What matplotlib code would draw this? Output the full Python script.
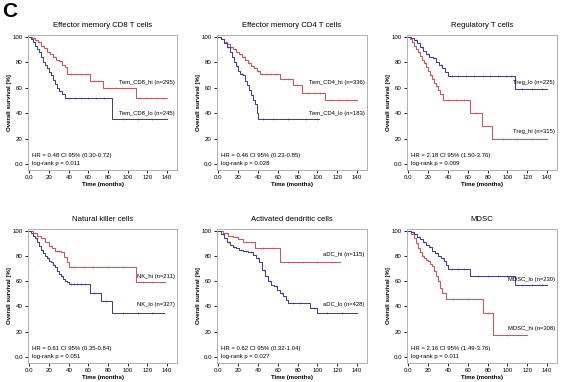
import matplotlib
matplotlib.use("Agg")
import matplotlib.pyplot as plt

plt.rcParams['font.family'] = ['Liberation Sans', 'DejaVu Sans']

RED = '#e04a4e'
BLUE = '#36369e'

# ---------------- data ----------------
titles = ["Effector memory CD8 T cells", "Effector memory CD4 T cells", "Regulatory T cells",
          "Natural killer cells", "Activated dendritic cells", "MDSC"]

# Panel 1: CD8
cd8_hi_t = [0, 3, 6, 9, 12, 15, 18, 21, 24, 27, 30, 33, 36, 38, 62, 75, 108]
cd8_hi_s = [100, 99, 97, 96, 93, 91, 88, 86, 84, 82, 81, 78, 76, 71, 65.5, 59.5, 52]
cd8_hi_end = 140
cd8_hi_c = [5, 10, 14, 20, 26, 31, 42, 47, 52, 57, 66, 70, 80, 88, 95, 102, 112, 118, 124, 130, 136]
cd8_lo_t = [0, 2, 4, 6, 8, 10, 12, 14, 16, 18, 20, 22, 24, 26, 28, 30, 33, 36, 84]
cd8_lo_s = [100, 98, 96, 93, 90, 88, 84, 80, 78, 75, 72, 70, 66, 63, 60, 57, 55, 52, 35]
cd8_lo_end = 140
cd8_lo_c = [40, 46, 52, 60, 68, 76, 95, 110, 125]

# Panel 2: CD4
cd4_hi_t = [0, 3, 6, 9, 12, 15, 18, 21, 24, 27, 30, 33, 36, 39, 42, 62, 75, 84, 108]
cd4_hi_s = [100, 98, 96, 94, 92, 90, 88, 86, 84, 82, 79, 77, 75, 73, 70.5, 66.5, 62, 56, 50]
cd4_hi_end = 140
cd4_hi_c = [4, 8, 13, 17, 22, 26, 31, 35, 40, 44, 48, 53, 58, 66, 70, 79, 90, 97, 103, 114, 122, 130, 137]
cd4_lo_t = [0, 3, 6, 9, 12, 14, 16, 18, 20, 22, 25, 27, 29, 31, 33, 35, 37, 39, 40]
cd4_lo_s = [100, 98, 95, 92, 88, 84, 80, 77, 73, 71, 70, 65, 62, 58, 54, 50, 47, 40, 35]
cd4_lo_end = 102
cd4_lo_c = [10, 19, 24, 45, 55, 70, 88, 100]

# Panel 3: Treg
treg_lo_t = [0, 3, 6, 9, 12, 15, 18, 21, 25, 28, 31, 34, 37, 40, 108]
treg_lo_s = [100, 99, 97, 95, 92, 89, 86, 84, 83, 80, 78, 75, 72, 69, 59]
treg_lo_end = 140
treg_lo_c = [8, 14, 20, 26, 33, 44, 50, 58, 66, 75, 82, 90, 98, 104, 115, 125, 135]
treg_hi_t = [0, 2, 4, 6, 8, 10, 12, 14, 16, 18, 20, 22, 24, 26, 28, 30, 32, 35, 62, 74, 84]
treg_hi_s = [100, 98, 96, 93, 90, 88, 85, 82, 79, 76, 73, 70, 67, 64, 61, 58, 55, 50, 40, 30, 20]
treg_hi_end = 140
treg_hi_c = [11, 17, 23, 29, 40, 48, 56, 68, 95, 110, 125]

# Panel 4: NK
nk_hi_t = [0, 4, 8, 12, 16, 20, 23, 26, 32, 35, 38, 40, 108]
nk_hi_s = [100, 98, 96, 94, 91, 88, 86, 84, 83, 79, 75, 71, 59]
nk_hi_end = 138
nk_hi_c = [6, 14, 22, 28, 30, 45, 55, 65, 80, 95, 115, 125]
nk_lo_t = [0, 2, 4, 6, 8, 10, 12, 14, 16, 18, 20, 22, 24, 26, 28, 30, 32, 34, 36, 38, 40, 62, 73, 84]
nk_lo_s = [100, 98, 96, 94, 91, 88, 85, 82, 80, 78, 76, 75, 73, 71, 68, 66, 64, 62, 60, 59, 58, 51, 44, 35]
nk_lo_end = 137
nk_lo_c = [7, 13, 19, 25, 33, 42, 45, 48, 52, 56, 66, 78, 95, 110, 125]

# Panel 5: aDC
adc_hi_t = [0, 5, 10, 15, 20, 25, 37, 62]
adc_hi_s = [100, 98, 96, 95, 93, 91, 86, 75]
adc_hi_end = 123
adc_hi_c = [8, 18, 28, 33, 45, 55, 70, 85, 100, 115]
adc_lo_t = [0, 3, 6, 9, 12, 15, 18, 21, 25, 30, 35, 38, 41, 44, 47, 50, 53, 56, 59, 62, 65, 68, 70, 92, 100]
adc_lo_s = [100, 97, 94, 91, 89, 87, 86, 85, 84, 83, 81, 78, 75, 69, 64, 60, 57, 56, 53, 51, 48, 45, 43, 39, 35]
adc_lo_end = 140
adc_lo_c = [5, 11, 16, 23, 28, 33, 40, 46, 52, 58, 64, 75, 82, 96, 110, 125]

# Panel 6: MDSC
mdsc_lo_t = [0, 3, 6, 9, 12, 15, 18, 21, 24, 27, 30, 33, 36, 38, 40, 62, 108]
mdsc_lo_s = [100, 99, 97, 95, 93, 91, 89, 87, 84, 82, 80, 78, 76, 73, 70, 64.5, 57]
mdsc_lo_end = 140
mdsc_lo_c = [5, 11, 16, 22, 29, 35, 44, 50, 56, 70, 80, 90, 100, 115, 125, 135]
mdsc_hi_t = [0, 3, 6, 8, 10, 12, 14, 16, 18, 20, 22, 24, 26, 28, 30, 32, 34, 38, 75, 85]
mdsc_hi_s = [100, 97, 94, 90, 86, 83, 80, 78, 77, 76, 74, 72, 68, 64, 60, 55, 51, 46, 34.5, 17.5]
mdsc_hi_end = 120
mdsc_hi_c = [9, 15, 21, 27, 31, 45, 60, 80, 100]

labels_red = ["Tem_CD8_hi (n=295)", "Tem_CD4_hi (n=336)", "Treg_hi (n=315)",
              "NK_hi (n=211)", "aDC_hi (n=115)", "MDSC_hi (n=308)"]
labels_blue = ["Tem_CD8_lo (n=245)", "Tem_CD4_lo (n=183)", "Treg_lo (n=225)",
               "NK_lo (n=327)", "aDC_lo (n=428)", "MDSC_lo (n=230)"]
label_y_red = [62, 62, 23.5, 62, 79, 20.5]
label_y_blue = [37.5, 37.5, 62, 39.5, 39.5, 59.5]
hr_texts = ["HR = 0.48 CI 95% (0.30-0.72)", "HR = 0.46 CI 95% (0.23-0.85)",
            "HR = 2.18 CI 95% (1.50-3.76)", "HR = 0.61 CI 95% (0.35-0.84)",
            "HR = 0.62 CI 95% (0.32-1.04)", "HR = 2.16 CI 95% (1.49-3.76)"]
p_texts = ["log-rank p = 0.011", "log-rank p = 0.028", "log-rank p = 0.009",
           "log-rank p = 0.051", "log-rank p = 0.027", "log-rank p = 0.011"]

red_curves = [(cd8_hi_t, cd8_hi_s, cd8_hi_end, cd8_hi_c), (cd4_hi_t, cd4_hi_s, cd4_hi_end, cd4_hi_c),
              (treg_hi_t, treg_hi_s, treg_hi_end, treg_hi_c), (nk_hi_t, nk_hi_s, nk_hi_end, nk_hi_c),
              (adc_hi_t, adc_hi_s, adc_hi_end, adc_hi_c), (mdsc_hi_t, mdsc_hi_s, mdsc_hi_end, mdsc_hi_c)]
blue_curves = [(cd8_lo_t, cd8_lo_s, cd8_lo_end, cd8_lo_c), (cd4_lo_t, cd4_lo_s, cd4_lo_end, cd4_lo_c),
               (treg_lo_t, treg_lo_s, treg_lo_end, treg_lo_c), (nk_lo_t, nk_lo_s, nk_lo_end, nk_lo_c),
               (adc_lo_t, adc_lo_s, adc_lo_end, adc_lo_c), (mdsc_lo_t, mdsc_lo_s, mdsc_lo_end, mdsc_lo_c)]

xticks = [0, 20, 40, 60, 80, 100, 120, 140]
xticklabels = ["0.0", "20", "40", "60", "80", "100", "120", "140"]
yticks = [0, 20, 40, 60, 80, 100]
yticklabels = ["0.0", "20", "40", "60", "80", "100"]

# ---------------- figure ----------------
W, H = 567, 382
fig = plt.figure(figsize=(W / 100, H / 100), dpi=100)
fig.patch.set_facecolor('white')

boxes = [(28, 35, 177, 170), (217, 35, 367, 170), (407, 35, 557, 170),
         (28, 229, 177, 363), (217, 229, 367, 363), (407, 229, 557, 363)]


def surv_at(t, s, x):
    v = s[0]
    for ti, si in zip(t, s):
        if ti <= x:
            v = si
    return v


def draw_curve(ax, t, s, end, cens, color):
    xs = list(t) + [end]
    ys = list(s) + [s[-1]]
    ax.step(xs, ys, where='post', color=color, lw=0.7, zorder=3)
    cy = [surv_at(t, s, c) for c in cens]
    ax.plot(cens, cy, ls='none', marker='|', ms=1.5, mew=0.4, color=color, zorder=3)


for i, (l, t, r, b) in enumerate(boxes):
    ax = fig.add_axes([l / W, 1 - b / H, (r - l) / W, (b - t) / H])
    rt, rs, rend, rc = red_curves[i]
    bt, bs, bend, bc = blue_curves[i]
    draw_curve(ax, rt, rs, rend, rc, RED)
    draw_curve(ax, bt, bs, bend, bc, BLUE)
    ax.set_xlim(-1.5, 150)
    ax.set_ylim(-4.7, 101.3)
    ax.set_xticks(xticks)
    ax.set_xticklabels(xticklabels)
    ax.set_yticks(yticks)
    ax.set_yticklabels(yticklabels)
    ax.tick_params(axis='both', labelsize=4.4, length=2.5, width=0.6, pad=1.2, colors='black')
    for sp in ax.spines.values():
        sp.set_color('#b0b0b0')
        sp.set_linewidth(0.7)
    ax.set_xlabel("Time (months)", fontsize=4.4, fontweight='bold', labelpad=1)
    ax.set_ylabel("Overall survival [%]", fontsize=4.4, fontweight='bold', labelpad=0.5)
    ax.set_title(titles[i], fontsize=5.6, pad=6)
    ax.text(0.985, label_y_red[i], labels_red[i], transform=ax.get_yaxis_transform(),
            ha='right', va='bottom', fontsize=4.2)
    ax.text(0.985, label_y_blue[i], labels_blue[i], transform=ax.get_yaxis_transform(),
            ha='right', va='bottom', fontsize=4.2)
    ax.text(3, 7, hr_texts[i], fontsize=4.3, ha='left', va='center')
    ax.text(3, 0.5, p_texts[i], fontsize=4.3, ha='left', va='center')

fig.text(2 / W, 1 - 2 / H, "C", fontsize=15, fontweight='bold', ha='left', va='top')

fig.savefig("out.png", dpi=100, facecolor='white')
